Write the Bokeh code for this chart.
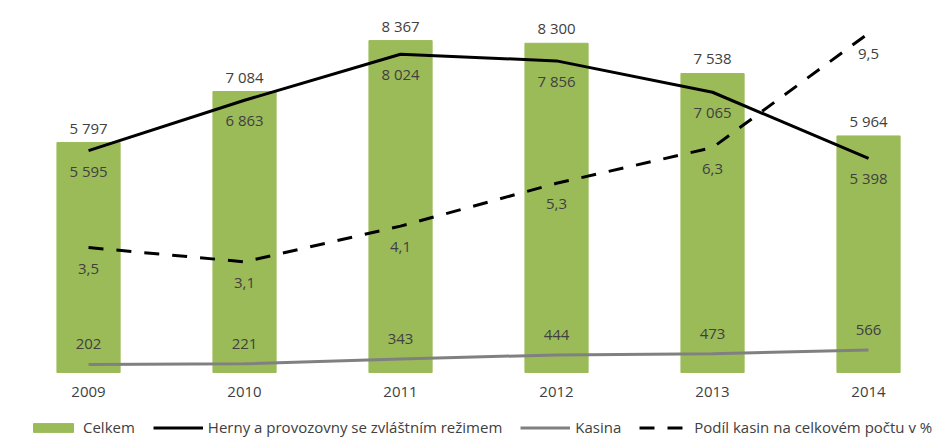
from bokeh.plotting import figure
from bokeh.models import Range1d, Legend, LegendItem, ColumnDataSource
from bokeh.core.properties import value
from bokeh.embed import file_html
from bokeh.resources import INLINE

years = ["2009", "2010", "2011", "2012", "2013", "2014"]
celkem = [5797, 7084, 8367, 8300, 7538, 5964]
herny = [5595, 6863, 8024, 7856, 7065, 5398]
kasina = [202, 221, 343, 444, 473, 566]
podil = [3.5, 3.1, 4.1, 5.3, 6.3, 9.5]

def fmt_int(v):
    return f"{v:,}".replace(",", "\u00a0")

def fmt_dec(v):
    return f"{v:.1f}".replace(".", ",")

xs = list(range(len(years)))
src = ColumnDataSource(dict(
    x=xs, years=years, zero=[0] * len(years),
    celkem=celkem, herny=herny, kasina=kasina, podil=podil,
    celkem_t=[fmt_int(v) for v in celkem],
    herny_t=[fmt_int(v) for v in herny],
    kasina_t=[fmt_int(v) for v in kasina],
    podil_t=[fmt_dec(v) for v in podil],
))

FONT = value("Open Sans")
TXT = "#404040"
GREEN = "#9BBB59"

# layout (pixels)
W, H = 939, 441
LEFT, TOP = 8, 15
BASE = 372            # pixel row of value 0
PLOT_H = BASE - TOP   # pixels from 0 to the axis maximum
Y_MAX, P_MAX = 9000, 10
below = (H - BASE) / PLOT_H

x0 = -0.513
p = figure(width=W, height=H, output_backend="svg", toolbar_location=None,
           x_range=Range1d(x0, x0 + (W - LEFT) / 156.0),
           y_range=Range1d(-below * Y_MAX, Y_MAX),
           x_axis_location=None, y_axis_location=None,
           min_border_left=LEFT, min_border_right=0,
           min_border_top=TOP, min_border_bottom=0)
p.extra_y_ranges = {"pct": Range1d(-below * P_MAX, P_MAX)}
p.outline_line_color = None
p.xgrid.visible = False
p.ygrid.visible = False

bars = p.vbar(x="x", top="celkem", bottom=0, width=0.405, source=src, color=GREEN)
l_herny = p.line(x="x", y="herny", source=src, line_color="black", line_width=3)
l_kas = p.line(x="x", y="kasina", source=src, line_color="#808080", line_width=3)
l_pod = p.line(x="x", y="podil", source=src, y_range_name="pct", line_color="black",
               line_width=3, line_dash="15 13")

common = dict(text_font=FONT, text_font_size="15px", text_color=TXT,
              text_align="center", text_baseline="middle", source=src)
p.text(x="x", y="celkem", text="celkem_t", y_offset=-15, **common)
p.text(x="x", y="herny", text="herny_t", y_offset=20, **common)
p.text(x="x", y="kasina", text="kasina_t", y_offset=-20, **common)
p.text(x="x", y="podil", text="podil_t", y_offset=21, y_range_name="pct", **common)
# category (year) labels under the bars
p.text(x="x", y="zero", text="years", y_offset=19, **common)

legend = Legend(items=[
    LegendItem(label="Celkem", renderers=[bars]),
    LegendItem(label="Herny a provozovny se zvláštním režimem", renderers=[l_herny]),
    LegendItem(label="Kasina", renderers=[l_kas]),
    LegendItem(label="Podíl kasin na celkovém počtu v %", renderers=[l_pod]),
], orientation="horizontal", location=(20, 4), padding=0, margin=0,
    spacing=18, glyph_width=50, glyph_height=11, label_standoff=5,
    label_text_font="Open Sans", label_text_font_size="15px", label_text_color=TXT,
    border_line_color=None, background_fill_alpha=0)
p.add_layout(legend, "center")

open("out.html", "w").write(file_html(p, INLINE))
